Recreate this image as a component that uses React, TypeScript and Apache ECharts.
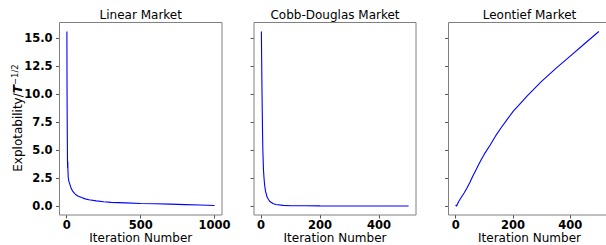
import React, { useEffect, useRef } from "react";
import * as echarts from "echarts";

// ---- data ----
const titles = ["Linear Market", "Cobb-Douglas Market", "Leontief Market"];
const xLabel = "Iteration Number";

const linearIter = [1, 2, 3, 4, 5, 6, 7, 8, 10, 12, 15, 20, 25, 30, 40, 50, 60, 75, 100, 125, 150, 200, 250, 300, 400, 500, 600, 700, 800, 900, 1000];
const linearVal = [15.6, 10.4, 8.0, 6.0, 4.1, 3.4, 4.0, 3.3, 2.6, 2.4, 2.2, 2.0, 1.8, 1.6, 1.35, 1.2, 1.05, 0.92, 0.78, 0.66, 0.58, 0.48, 0.4, 0.35, 0.3, 0.25, 0.23, 0.19, 0.15, 0.11, 0.07];

const cobbIter = [1, 2, 3, 4, 5, 6, 8, 10, 12, 15, 20, 25, 30, 40, 50, 75, 100, 150, 200, 300, 400, 500];
const cobbVal = [15.6, 13.0, 10.5, 8.5, 6.5, 5.0, 3.3, 2.5, 1.9, 1.35, 0.85, 0.6, 0.42, 0.25, 0.16, 0.08, 0.05, 0.04, 0.03, 0.02, 0.02, 0.02];

const leonIter = [0, 3, 10, 20, 30, 40, 50, 60, 70, 80, 90, 100, 120, 140, 160, 180, 200, 250, 300, 350, 400, 450, 500];
const leonVal = [0.12, 0.0, 0.4, 0.8, 1.2, 1.65, 2.15, 2.7, 3.2, 3.7, 4.2, 4.65, 5.45, 6.3, 7.05, 7.75, 8.45, 9.85, 11.15, 12.3, 13.4, 14.5, 15.6];

const yTickValues = [0, 2.5, 5, 7.5, 10, 12.5, 15];
const xTickValues = [
  [0, 500, 1000],
  [0, 200, 400],
  [0, 200, 400],
];
// axis extents (auto 5% margins around the data)
const yExtent = [-0.78, 16.4];
const xExtents = [
  [-49, 1050],
  [-24, 525],
  [-25, 525],
];

const FONT = "DejaVu Sans";

export default function App() {
  const ref = useRef<HTMLDivElement>(null);
  useEffect(() => {
    if (!ref.current) return;
    const chart = echarts.init(ref.current, undefined, { renderer: "svg" });

    const frames = [
      { x: 59.5, w: 162.5 },
      { x: 254, w: 162 },
      { x: 448.5, w: 162 },
    ];
    const frameTop = 22.5;
    const frameBottom = 215;

    const seriesData = [
      linearIter.map((x, i) => [x, linearVal[i]]),
      cobbIter.map((x, i) => [x, cobbVal[i]]),
      leonIter.map((x, i) => [x, leonVal[i]]),
    ];

    const graphics: any[] = [];
    frames.forEach((f, i) => {
      graphics.push({
        type: "rect",
        shape: { x: f.x, y: frameTop, width: f.w, height: frameBottom - frameTop },
        style: { fill: "none", stroke: "#808080", lineWidth: 1 },
        z: 10,
      });
      graphics.push({
        type: "text",
        x: f.x + f.w / 2,
        y: 15,
        style: {
          text: titles[i],
          fontSize: 12,
          lineHeight: 13,
          fontFamily: FONT,
          fill: "#000",
          align: "center",
          verticalAlign: "middle",
        },
      });
      graphics.push({
        type: "text",
        x: f.x + f.w / 2,
        y: 237.5,
        style: {
          text: xLabel,
          fontSize: 12,
          lineHeight: 13,
          fontFamily: FONT,
          fill: "#000",
          align: "center",
          verticalAlign: "middle",
        },
      });
    });
    graphics.push({
      type: "text",
      x: 18,
      y: 118,
      rotation: Math.PI / 2,
      style: {
        text: "{n|Explotability/}{t|T}{s|\u22121/2}",
        align: "center",
        verticalAlign: "middle",
        rich: {
          n: { fontSize: 12, fontFamily: FONT, fill: "#000", lineHeight: 16 },
          t: { fontSize: 12, fontFamily: FONT, fill: "#000", fontWeight: "bold", fontStyle: "italic", lineHeight: 16 },
          s: { fontSize: 8.5, fontFamily: FONT, fill: "#000", lineHeight: 8, verticalAlign: "top" },
        },
      },
    });

    chart.setOption({
      animation: false,
      backgroundColor: "#fff",
      textStyle: { fontFamily: FONT },
      grid: frames.map((f) => ({
        left: f.x,
        width: f.w,
        top: frameTop,
        height: frameBottom - frameTop,
        show: false,
      })),
      xAxis: xExtents.map((ext, i) => ({
        type: "value",
        gridIndex: i,
        min: ext[0],
        max: ext[1],
        splitLine: { show: false },
        axisLine: { show: false, onZero: false },
        axisTick: {
          show: true,
          length: 3.5,
          customValues: xTickValues[i],
          lineStyle: { color: "#555" },
        },
        axisLabel: {
          customValues: xTickValues[i],
          fontSize: 11.5,
          lineHeight: 12,
          fontWeight: "bold",
          color: "#000",
          margin: 4,
          fontFamily: FONT,
          formatter: (v: number) => String(v),
        },
      })),
      yAxis: frames.map((f, i) => ({
        type: "value",
        gridIndex: i,
        min: yExtent[0],
        max: yExtent[1],
        splitLine: { show: false },
        axisLine: { show: false, onZero: false },
        axisTick: {
          show: true,
          length: 3.5,
          customValues: yTickValues,
          lineStyle: { color: "#555" },
        },
        axisLabel: {
          show: i === 0,
          customValues: yTickValues,
          fontSize: 11.5,
          fontWeight: "bold",
          color: "#000",
          margin: 7,
          fontFamily: FONT,
          formatter: (v: number) => v.toFixed(1),
        },
      })),
      series: seriesData.map((d, i) => ({
        type: "line",
        xAxisIndex: i,
        yAxisIndex: i,
        data: d,
        showSymbol: false,
        symbol: "none",
        clip: false,
        lineStyle: { color: "#0000ff", width: 1.1 },
      })),
      graphic: graphics,
    });
    return () => chart.dispose();
  }, []);
  return (
    <div
      ref={ref}
      style={{ position: "absolute", left: 0, top: 0, width: 606, height: 245 }}
    />
  );
}
